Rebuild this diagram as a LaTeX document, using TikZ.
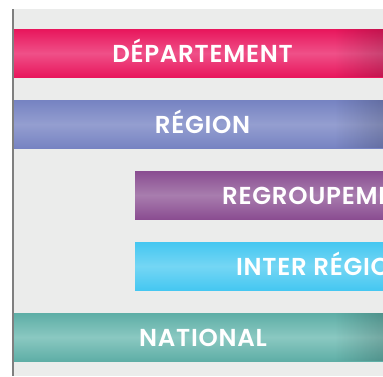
\documentclass[tikz,border=0pt]{standalone}
\usepackage{fontspec}
\setmainfont{Poppins}[BoldFont={Poppins SemiBold}]
\newfontfamily\barfont{Poppins SemiBold}[LetterSpace=3]
\usetikzlibrary{positioning,fadings}
\definecolor{bgc}{HTML}{EBECEB}
\definecolor{linec}{HTML}{7F7F7F}
\definecolor{pinkA}{HTML}{E8165C}
\definecolor{pinkB}{HTML}{EF5088}
\definecolor{blueA}{HTML}{7683C2}
\definecolor{blueB}{HTML}{949ED0}
\definecolor{purA}{HTML}{8A4D91}
\definecolor{purB}{HTML}{A87DAE}
\definecolor{cyA}{HTML}{45C7F1}
\definecolor{cyB}{HTML}{74D6F4}
\definecolor{teA}{HTML}{5EAEA6}
\definecolor{teB}{HTML}{8AC8C1}
\tikzset{
  barbox/.style n args={2}{rectangle, inner sep=0pt, anchor=north west,
    minimum height=48pt, top color=#1, bottom color=#1, middle color=#2},
  bartext/.style={text=white, font=\barfont\fontsize{24.5}{25}\selectfont, inner sep=0pt, anchor=base},
  vign/.style={fill=black, opacity=0.16, path fading=west}
}
\begin{document}
\begin{tikzpicture}[x=1pt,y=-1pt]
\useasboundingbox (0,0) rectangle (383,376);
\clip (0,0) rectangle (383,376);
\fill[white] (0,0) rectangle (383,376);
\fill[bgc] (13,9) rectangle (383,376);
\fill[linec] (12,9) rectangle (14,376);
\node[barbox={pinkA}{pinkB}, minimum width=379pt] (dep) at (14,29) {};
\node[barbox={blueA}{blueB}, minimum width=379pt] (reg) at (14,100) {};
\node[barbox={purA}{purB}, minimum width=260pt] (grp) at (135,171) {};
\node[barbox={cyA}{cyB}, minimum width=260pt] (inter) at (135,242) {};
\node[barbox={teA}{teB}, minimum width=379pt] (nat) at (14,313) {};
\fill[vign] (335,29) rectangle (383,77);
\fill[vign] (335,100) rectangle (383,148);
\fill[vign] (335,313) rectangle (383,361);
\node[bartext] (tdep) at (202.5,62.5) {DÉPARTEMENT};
\node[bartext] (treg) at (202.5,133.5) {RÉGION};
\node[bartext, anchor=base west] (tgrp) at (222,204.5) {REGROUPEMENT};
\node[bartext, anchor=base west] (tinter) at (236,275.5) {INTER RÉGIONS};
\node[bartext] (tnat) at (203,346) {NATIONAL};
\end{tikzpicture}
\end{document}
